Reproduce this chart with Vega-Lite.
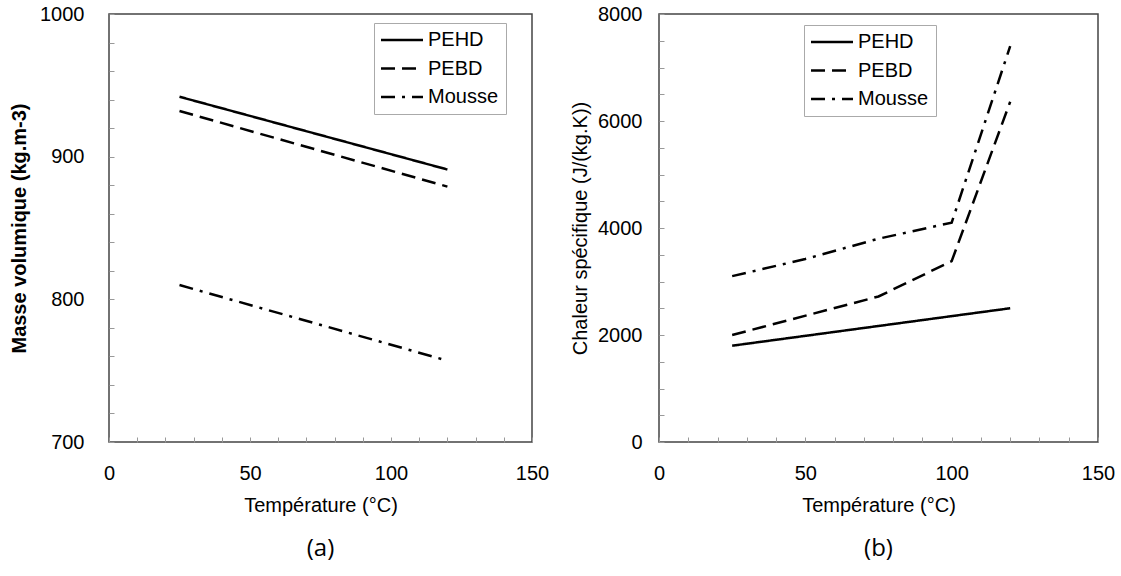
{
  "$schema": "https://vega.github.io/schema/vega-lite/v6.json",
  "background": "white",
  "padding": {"left": 8, "top": 3, "right": 5, "bottom": 5},
  "bounds": "flush",
  "spacing": 127,
  "datasets": {
    "a": [
      {"m": "PEHD", "T": 25, "v": 942},
      {"m": "PEHD", "T": 120, "v": 891},
      {"m": "PEBD", "T": 25, "v": 932},
      {"m": "PEBD", "T": 120, "v": 879},
      {"m": "Mousse", "T": 25, "v": 810},
      {"m": "Mousse", "T": 120, "v": 757}
    ],
    "b": [
      {"m": "PEHD", "T": 25, "v": 1800},
      {"m": "PEHD", "T": 120, "v": 2500},
      {"m": "PEBD", "T": 25, "v": 2000},
      {"m": "PEBD", "T": 75, "v": 2720},
      {"m": "PEBD", "T": 100, "v": 3380},
      {"m": "PEBD", "T": 120, "v": 6360},
      {"m": "Mousse", "T": 25, "v": 3100},
      {"m": "Mousse", "T": 50, "v": 3420},
      {"m": "Mousse", "T": 75, "v": 3800},
      {"m": "Mousse", "T": 100, "v": 4100},
      {"m": "Mousse", "T": 120, "v": 7400}
    ]
  },
  "config": {
    "font": "Liberation Sans",
    "view": {"stroke": "#444", "strokeWidth": 1.5},
    "axis": {
      "domain": false,
      "grid": false,
      "tickColor": "#999",
      "tickSize": -5,
      "tickWidth": 1,
      "labelFontSize": 20,
      "labelFont": "Liberation Sans",
      "labelColor": "black",
      "labelFlush": false,
      "labelOverlap": false,
      "format": "d",
      "titleFontSize": 20,
      "titleFont": "Liberation Sans",
      "titleColor": "black",
      "titleFontWeight": "normal"
    },
    "legend": {
      "labelFontSize": 20,
      "labelFont": "Liberation Sans",
      "labelColor": "black",
      "strokeColor": "#aaa",
      "fillColor": "white",
      "padding": 7,
      "symbolType": "M-2.5,0H2.5",
      "symbolSize": 282,
      "symbolOffset": 11,
      "symbolStrokeWidth": 2.5,
      "symbolStrokeColor": "black",
      "labelOffset": 16,
      "rowPadding": 8.5
    },
    "title": {"font": "Open Sans", "fontSize": 24, "fontWeight": "normal", "color": "black"}
  },
  "hconcat": [
    {
      "width": 423,
      "height": 428,
      "data": {"name": "a"},
      "title": {"text": "(a)", "orient": "bottom", "anchor": "middle", "offset": 22},
      "mark": {"type": "line", "color": "black", "strokeWidth": 2.5},
      "encoding": {
        "x": {
          "field": "T", "type": "quantitative",
          "scale": {"domain": [0, 150], "nice": false},
          "axis": {
            "title": "Température (°C)",
            "values": [0,10,20,30,40,50,60,70,80,90,100,110,120,130,140,150],
            "labelExpr": "datum.value % 50 === 0 ? datum.label : ''",
            "labelPadding": 26,
            "titlePadding": 12
          }
        },
        "y": {
          "field": "v", "type": "quantitative",
          "scale": {"domain": [700, 1000], "nice": false, "zero": false},
          "axis": {
            "title": "Masse volumique (kg.m-3)",
            "titleFontWeight": "bold",
            "values": [700,720,740,760,780,800,820,840,860,880,900,920,940,960,980,1000],
            "labelExpr": "datum.value % 100 === 0 ? datum.label : ''",
            "labelPadding": 30,
            "titlePadding": 10
          }
        },
        "strokeDash": {
          "field": "m", "type": "nominal",
          "scale": {"domain": ["PEHD", "PEBD", "Mousse"], "range": [[1, 0], [14, 7], [14, 7, 3, 7]]},
          "legend": {"title": null, "orient": "none", "legendX": 265, "legendY": 9}
        }
      }
    },
    {
      "width": 439,
      "height": 428,
      "data": {"name": "b"},
      "title": {"text": "(b)", "orient": "bottom", "anchor": "middle", "offset": 22},
      "mark": {"type": "line", "color": "black", "strokeWidth": 2.5},
      "encoding": {
        "x": {
          "field": "T", "type": "quantitative",
          "scale": {"domain": [0, 150], "nice": false},
          "axis": {
            "title": "Température (°C)",
            "values": [0,10,20,30,40,50,60,70,80,90,100,110,120,130,140,150],
            "labelExpr": "datum.value % 50 === 0 ? datum.label : ''",
            "labelPadding": 26,
            "titlePadding": 12
          }
        },
        "y": {
          "field": "v", "type": "quantitative",
          "scale": {"domain": [0, 8000], "nice": false},
          "axis": {
            "title": "Chaleur spécifique (J/(kg.K))",
            "values": [0,500,1000,1500,2000,2500,3000,3500,4000,4500,5000,5500,6000,6500,7000,7500,8000],
            "labelExpr": "datum.value % 2000 === 0 ? datum.label : ''",
            "labelPadding": 22,
            "titlePadding": 7
          }
        },
        "strokeDash": {
          "field": "m", "type": "nominal",
          "scale": {"domain": ["PEHD", "PEBD", "Mousse"], "range": [[1, 0], [14, 7], [14, 7, 3, 7]]},
          "legend": {"title": null, "orient": "none", "legendX": 145, "legendY": 11}
        }
      }
    }
  ],
  "resolve": {"scale": {"strokeDash": "independent"}}
}
